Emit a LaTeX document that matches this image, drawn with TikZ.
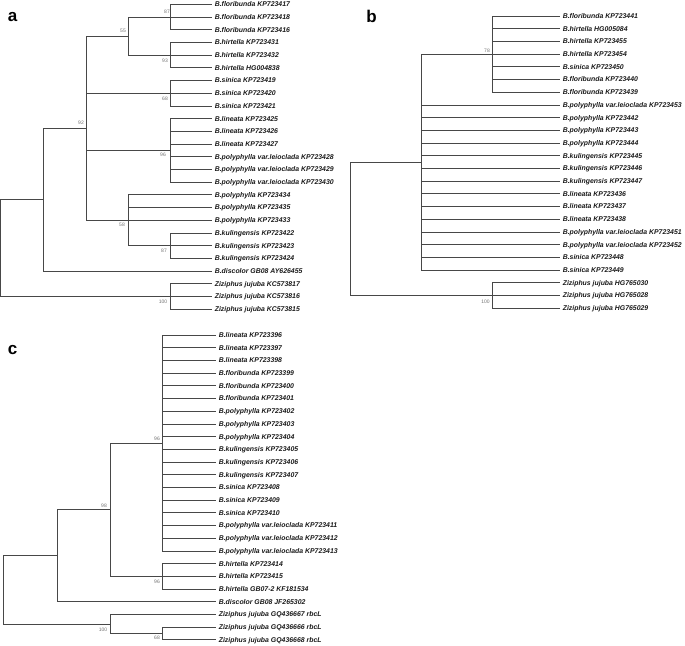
\documentclass[tikz,border=0pt]{standalone}
\usepackage{fontspec}
\newfontfamily\lsans{Liberation Sans}
\newcommand\lfnt{\lsans\bfseries\itshape\fontsize{6.9}{7}\selectfont}
\newcommand\bfnt{\lsans\fontsize{5}{5}\selectfont}
\newcommand\pfnt{\lsans\bfseries\fontsize{17}{17}\selectfont}
\tikzset{
  branch/.style={draw=black!72, line width=0.7pt},
  leaf/.style={anchor=west, font=\lfnt, inner sep=0pt, xshift=2.6pt, text height=4.9pt, text depth=0pt, text=black!90},
  boot/.style={font=\bfnt, text=black!55, inner sep=0pt},
  panel/.style={font=\pfnt, anchor=base, inner sep=0pt}
}
\begin{document}
\begin{tikzpicture}[x=1pt,y=-1pt]
\useasboundingbox (0,0) rectangle (685,645);
% ---------------- panel a ----------------
\node[panel] (la) at (12.5,21) {a};
\foreach \i/\t in {0/{B.floribunda KP723417},1/{B.floribunda KP723418},2/{B.floribunda KP723416},
  3/{B.hirtella KP723431},4/{B.hirtella KP723432},5/{B.hirtella HG004838},
  6/{B.sinica KP723419},7/{B.sinica KP723420},8/{B.sinica KP723421},
  9/{B.lineata KP723425},10/{B.lineata KP723426},11/{B.lineata KP723427},
  12/{B.polyphylla var.leioclada KP723428},13/{B.polyphylla var.leioclada KP723429},14/{B.polyphylla var.leioclada KP723430},
  15/{B.polyphylla KP723434},16/{B.polyphylla KP723435},17/{B.polyphylla KP723433},
  18/{B.kulingensis KP723422},19/{B.kulingensis KP723423},20/{B.kulingensis KP723424},
  21/{B.discolor GB08 AY626455},
  22/{Ziziphus jujuba KC573817},23/{Ziziphus jujuba KC573816},24/{Ziziphus jujuba KC573815}}{
  \pgfmathsetmacro\yy{4.3+12.7*\i}
  \coordinate (aL\i) at (212,\yy);
  \node[leaf] (aT\i) at (aL\i) {\t};
}
\coordinate (aFl) at (170,17.0);
\coordinate (aHi) at (170,55.1);
\coordinate (a55) at (128,36.05);
\coordinate (aSi) at (170,93.2);
\coordinate (aLi) at (170,150.35);
\coordinate (aKu) at (170,245.6);
\coordinate (a58) at (128,220.2);
\coordinate (a92) at (86,128.1);
\coordinate (a43) at (43,199.6);
\coordinate (aZ) at (170,296.4);
\coordinate (aR) at (0.8,248);
\foreach \c in {aL0,aL1,aL2} \draw[branch] (aFl) |- (\c);
\foreach \c in {aL3,aL4,aL5} \draw[branch] (aHi) |- (\c);
\foreach \c in {aFl,aHi} \draw[branch] (a55) |- (\c);
\foreach \c in {aL6,aL7,aL8} \draw[branch] (aSi) |- (\c);
\foreach \c in {aL9,aL10,aL11,aL12,aL13,aL14} \draw[branch] (aLi) |- (\c);
\foreach \c in {aL18,aL19,aL20} \draw[branch] (aKu) |- (\c);
\foreach \c in {aL15,aL16,aL17,aKu} \draw[branch] (a58) |- (\c);
\foreach \c in {a55,aSi,aLi,a58} \draw[branch] (a92) |- (\c);
\foreach \c in {a92,aL21} \draw[branch] (a43) |- (\c);
\foreach \c in {aL22,aL23,aL24} \draw[branch] (aZ) |- (\c);
\foreach \c in {a43,aZ} \draw[branch] (aR) |- (\c);
\node[boot] (ba1) at (167,12) {87};
\node[boot] (ba2) at (123,31) {55};
\node[boot] (ba3) at (165,61) {93};
\node[boot] (ba4) at (165,99) {68};
\node[boot] (ba5) at (81,123) {92};
\node[boot] (ba6) at (163,155) {96};
\node[boot] (ba7) at (122,225) {58};
\node[boot] (ba8) at (164,251) {87};
\node[boot] (ba9) at (163,302) {100};
% ---------------- panel b ----------------
\node[panel] (lb) at (371.5,23) {b};
\foreach \i/\t in {0/{B.floribunda KP723441},1/{B.hirtella HG005084},2/{B.hirtella KP723455},
  3/{B.hirtella KP723454},4/{B.sinica KP723450},5/{B.floribunda KP723440},6/{B.floribunda KP723439},
  7/{B.polyphylla var.leioclada KP723453},8/{B.polyphylla KP723442},9/{B.polyphylla KP723443},
  10/{B.polyphylla KP723444},11/{B.kulingensis KP723445},12/{B.kulingensis KP723446},
  13/{B.kulingensis KP723447},14/{B.lineata KP723436},15/{B.lineata KP723437},16/{B.lineata KP723438},
  17/{B.polyphylla var.leioclada KP723451},18/{B.polyphylla var.leioclada KP723452},
  19/{B.sinica KP723448},20/{B.sinica KP723449},
  21/{Ziziphus jujuba HG765030},22/{Ziziphus jujuba HG765028},23/{Ziziphus jujuba HG765029}}{
  \pgfmathsetmacro\yy{16+12.7*\i}
  \coordinate (bL\i) at (560,\yy);
  \node[leaf] (bT\i) at (bL\i) {\t};
}
\coordinate (b78) at (492,54.1);
\coordinate (bP) at (421,162.05);
\coordinate (bZ) at (492,295.4);
\coordinate (bR) at (350,228.7);
\foreach \c in {bL0,bL1,bL2,bL3,bL4,bL5,bL6} \draw[branch] (b78) |- (\c);
\foreach \c in {b78,bL7,bL8,bL9,bL10,bL11,bL12,bL13,bL14,bL15,bL16,bL17,bL18,bL19,bL20} \draw[branch] (bP) |- (\c);
\foreach \c in {bL21,bL22,bL23} \draw[branch] (bZ) |- (\c);
\foreach \c in {bP,bZ} \draw[branch] (bR) |- (\c);
\node[boot] (bb1) at (487,51) {78};
\node[boot] (bb2) at (485.5,301.7) {100};
% ---------------- panel c ----------------
\node[panel] (lc) at (12.5,354) {c};
\foreach \i/\t in {0/{B.lineata KP723396},1/{B.lineata KP723397},2/{B.lineata KP723398},
  3/{B.floribunda KP723399},4/{B.floribunda KP723400},5/{B.floribunda KP723401},
  6/{B.polyphylla KP723402},7/{B.polyphylla KP723403},8/{B.polyphylla KP723404},
  9/{B.kulingensis KP723405},10/{B.kulingensis KP723406},11/{B.kulingensis KP723407},
  12/{B.sinica KP723408},13/{B.sinica KP723409},14/{B.sinica KP723410},
  15/{B.polyphylla var.leioclada KP723411},16/{B.polyphylla var.leioclada KP723412},17/{B.polyphylla var.leioclada KP723413},
  18/{B.hirtella KP723414},19/{B.hirtella KP723415},20/{B.hirtella GB07-2 KF181534},
  21/{B.discolor GB08 JF265302},
  22/{Ziziphus jujuba GQ436667 rbcL},23/{Ziziphus jujuba GQ436666 rbcL},24/{Ziziphus jujuba GQ436668 rbcL}}{
  \pgfmathsetmacro\yy{335+12.7*\i}
  \coordinate (cL\i) at (216,\yy);
  \node[leaf] (cT\i) at (cL\i) {\t};
}
\coordinate (cP) at (162,442.95);
\coordinate (cH) at (162,576.3);
\coordinate (c98) at (110,509.6);
\coordinate (cD) at (57,555.65);
\coordinate (c68) at (162,633.45);
\coordinate (cZ) at (110,623.9);
\coordinate (cR) at (3,589.8);
\foreach \c in {cL0,cL1,cL2,cL3,cL4,cL5,cL6,cL7,cL8,cL9,cL10,cL11,cL12,cL13,cL14,cL15,cL16,cL17} \draw[branch] (cP) |- (\c);
\foreach \c in {cL18,cL19,cL20} \draw[branch] (cH) |- (\c);
\foreach \c in {cP,cH} \draw[branch] (c98) |- (\c);
\foreach \c in {c98,cL21} \draw[branch] (cD) |- (\c);
\foreach \c in {cL23,cL24} \draw[branch] (c68) |- (\c);
\foreach \c in {cL22,c68} \draw[branch] (cZ) |- (\c);
\foreach \c in {cD,cZ} \draw[branch] (cR) |- (\c);
\node[boot] (bc1) at (157,439) {96};
\node[boot] (bc2) at (104,506) {98};
\node[boot] (bc3) at (157,582) {96};
\node[boot] (bc4) at (103,630) {100};
\node[boot] (bc5) at (157,638) {68};
\end{tikzpicture}
\end{document}
